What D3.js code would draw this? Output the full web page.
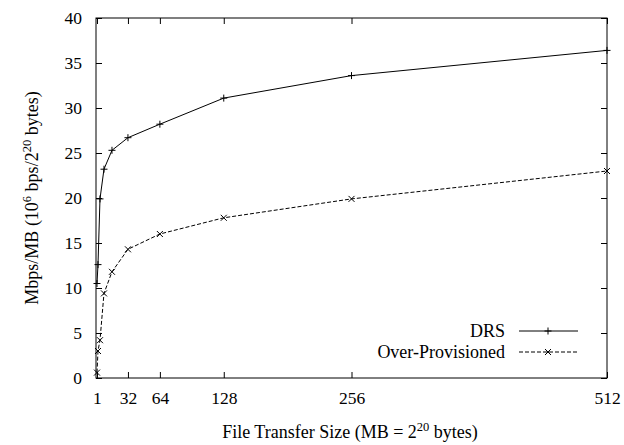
<!DOCTYPE html>
<html>
<head>
<meta charset="utf-8">
<script src="https://cdn.jsdelivr.net/npm/d3@7"></script>
<style>
  html, body { margin: 0; padding: 0; background: #fff; }
  svg { display: block; }
  svg text { fill: #000; font-family: 'Liberation Serif', 'DejaVu Serif', serif; }
</style>
</head>
<body>
<svg id="chart" width="624" height="445"></svg>
<script>
// data
var sizes = [1, 2, 4, 8, 16, 32, 64, 128, 256, 512];
var drs = [10.5, 12.6, 19.9, 23.2, 25.3, 26.7, 28.2, 31.1, 33.6, 36.4];
var overProv = [0.6, 3.0, 4.2, 9.4, 11.8, 14.3, 16.0, 17.8, 19.9, 23.0];
var xTicks = [1, 32, 64, 128, 256, 512];
var yTicks = [0, 5, 10, 15, 20, 25, 30, 35, 40];

var serif = "'Liberation Serif', 'DejaVu Serif', serif";
var svg = d3.select('#chart').attr('font-family', serif);
var plotLeft = 96, plotRight = 607, plotTop = 18, plotBottom = 378;

var x = d3.scaleLinear().domain([0, 512]).range([plotLeft, plotRight]);
var y = d3.scaleLinear().domain([0, 40]).range([plotBottom, plotTop]);

// axes with inward ticks on all four sides
function styleAxis(g) {
    g.attr('font-family', serif);
    g.select('.domain').remove();
    g.selectAll('.tick line').attr('stroke', '#000');
    g.selectAll('text').attr('font-size', 17.5).attr('font-family', serif);
}

svg.append('g')
    .attr('transform', 'translate(0,' + plotBottom + ')')
    .call(d3.axisBottom(x).tickValues(xTicks).tickSize(-6).tickPadding(14).tickFormat(d3.format('d')))
    .call(styleAxis);

svg.append('g')
    .attr('transform', 'translate(0,' + plotTop + ')')
    .call(d3.axisTop(x).tickValues(xTicks).tickSize(-6).tickFormat(''))
    .call(styleAxis);

svg.append('g')
    .attr('transform', 'translate(' + plotLeft + ',0)')
    .call(d3.axisLeft(y).tickValues(yTicks).tickSize(-6).tickPadding(14))
    .call(styleAxis);

svg.append('g')
    .attr('transform', 'translate(' + plotRight + ',0)')
    .call(d3.axisRight(y).tickValues(yTicks).tickSize(-6).tickFormat(''))
    .call(styleAxis);

svg.append('rect')
    .attr('x', plotLeft).attr('y', plotTop)
    .attr('width', plotRight - plotLeft).attr('height', plotBottom - plotTop)
    .attr('fill', 'none').attr('stroke', '#000').attr('stroke-width', 1);

// axis titles
var xt = svg.append('text')
    .attr('x', 350).attr('y', 438)
    .attr('text-anchor', 'middle').attr('font-size', 18).attr('font-family', serif);
xt.append('tspan').text('File Transfer Size (MB = 2');
xt.append('tspan').attr('dy', -7).attr('font-size', 12.5).text('20');
xt.append('tspan').attr('dy', 7).text(' bytes)');

var yt = svg.append('text')
    .attr('transform', 'translate(38,' + ((plotTop + plotBottom) / 2) + ') rotate(-90)')
    .attr('text-anchor', 'middle').attr('font-size', 18).attr('font-family', serif);
yt.append('tspan').text('Mbps/MB (10');
yt.append('tspan').attr('dy', -7).attr('font-size', 12.5).text('6');
yt.append('tspan').attr('dy', 7).text(' bps/2');
yt.append('tspan').attr('dy', -7).attr('font-size', 12.5).text('20');
yt.append('tspan').attr('dy', 7).text(' bytes)');

// series
var line = d3.line()
    .x(function (d) { return x(d[0]); })
    .y(function (d) { return y(d[1]); });

var drsPts = sizes.map(function (s, i) { return [s, drs[i]]; });
var opPts = sizes.map(function (s, i) { return [s, overProv[i]]; });

svg.append('path').datum(drsPts)
    .attr('d', line).attr('fill', 'none').attr('stroke', '#000').attr('stroke-width', 1);
svg.append('path').datum(opPts)
    .attr('d', line).attr('fill', 'none').attr('stroke', '#000').attr('stroke-width', 1)
    .attr('stroke-dasharray', '4,2');

function plus(g, cx, cy) {
    g.append('path')
        .attr('d', 'M' + (cx - 3.5) + ',' + cy + 'H' + (cx + 3.5) + 'M' + cx + ',' + (cy - 3.5) + 'V' + (cy + 3.5))
        .attr('stroke', '#000').attr('stroke-width', 1).attr('fill', 'none');
}
function cross(g, cx, cy) {
    g.append('path')
        .attr('d', 'M' + (cx - 3) + ',' + (cy - 3) + 'L' + (cx + 3) + ',' + (cy + 3) +
            'M' + (cx - 3) + ',' + (cy + 3) + 'L' + (cx + 3) + ',' + (cy - 3))
        .attr('stroke', '#000').attr('stroke-width', 1).attr('fill', 'none');
}

var marks = svg.append('g');
drsPts.forEach(function (d) { plus(marks, x(d[0]), y(d[1])); });
opPts.forEach(function (d) { cross(marks, x(d[0]), y(d[1])); });

// legend
var legend = svg.append('g');
var ly1 = 331, ly2 = 352;
legend.append('text').attr('x', 505).attr('y', ly1 + 6)
    .attr('text-anchor', 'end').attr('font-size', 18).attr('font-family', serif).text('DRS');
legend.append('line').attr('x1', 519).attr('x2', 578).attr('y1', ly1).attr('y2', ly1)
    .attr('stroke', '#000');
plus(legend, 548, ly1);
legend.append('text').attr('x', 505).attr('y', ly2 + 6)
    .attr('text-anchor', 'end').attr('font-size', 18).attr('font-family', serif).text('Over-Provisioned');
legend.append('line').attr('x1', 519).attr('x2', 578).attr('y1', ly2).attr('y2', ly2)
    .attr('stroke', '#000').attr('stroke-dasharray', '4,2');
cross(legend, 548, ly2);
</script>
</body>
</html>
